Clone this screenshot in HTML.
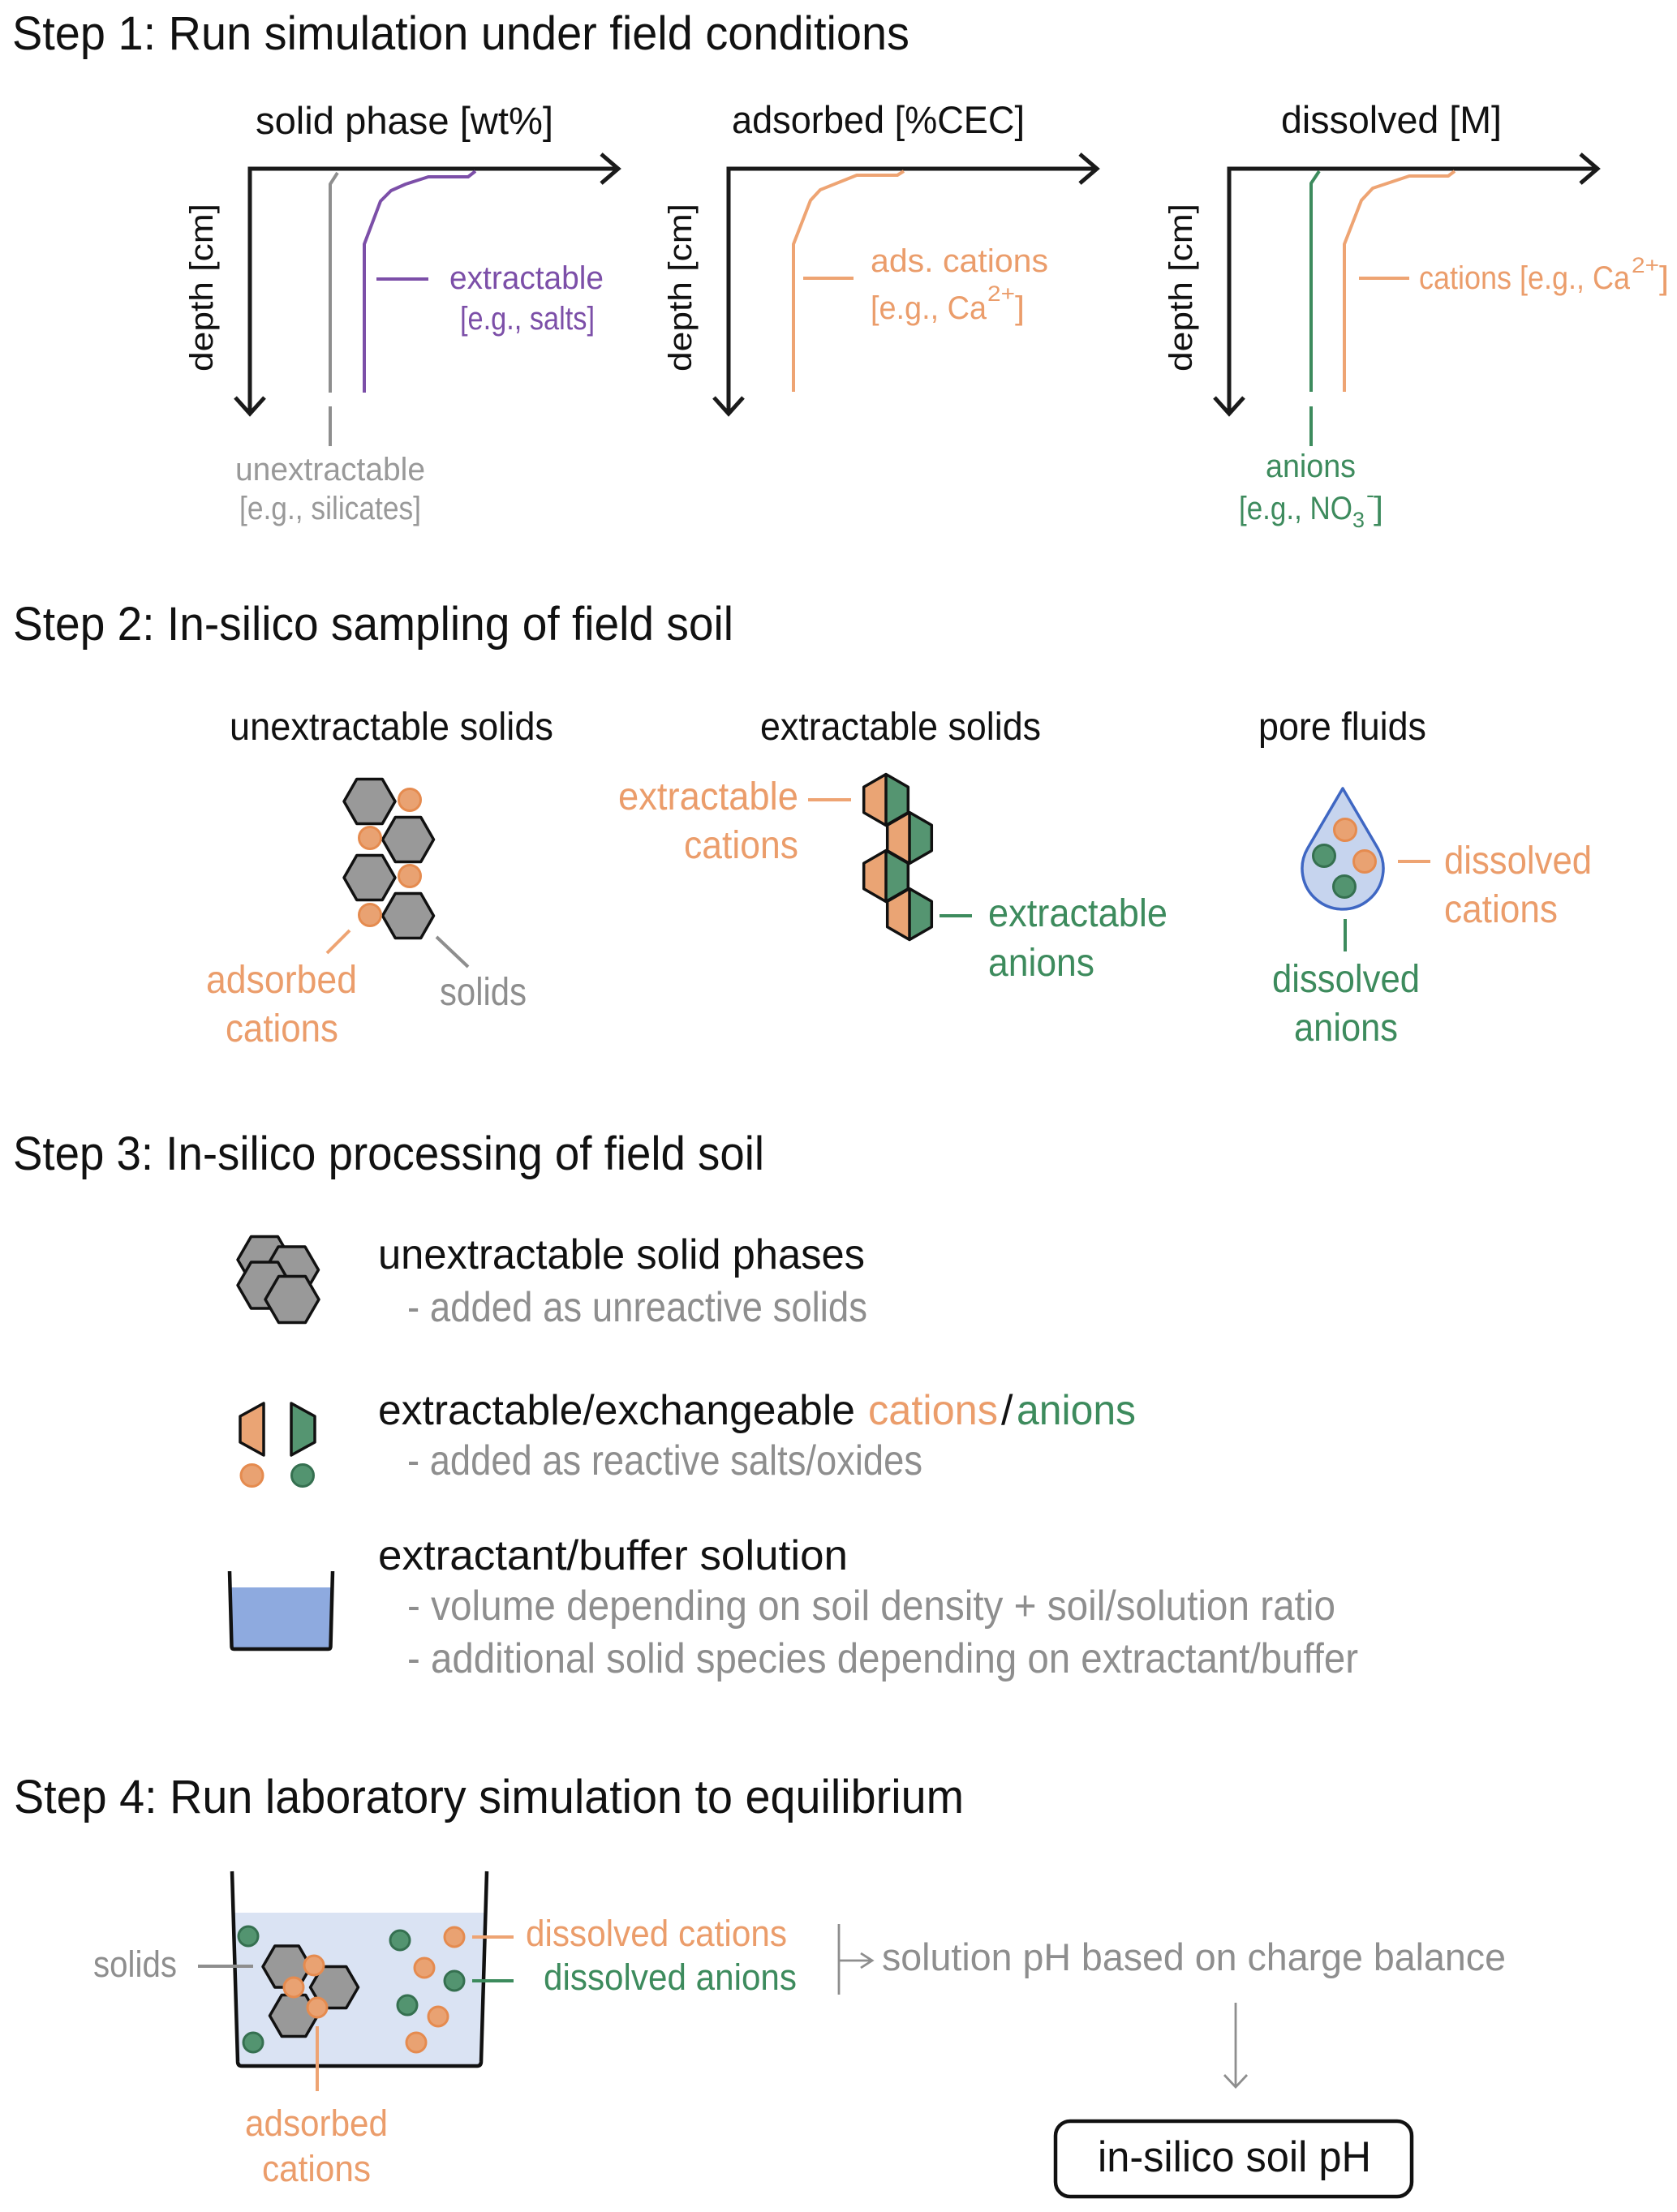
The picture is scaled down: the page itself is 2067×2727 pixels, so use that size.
<!DOCTYPE html>
<html>
<head>
<meta charset="utf-8">
<style>
html,body{margin:0;padding:0;background:#fff;}
svg{display:block;}
text{font-family:"Liberation Sans",sans-serif;}
</style>
</head>
<body>
<svg width="2067" height="2727" viewBox="0 0 2067 2727" xmlns="http://www.w3.org/2000/svg">
<rect x="0" y="0" width="2067" height="2727" fill="#ffffff"/>

<!-- ================= STEP TITLES ================= -->
<g fill="#111" font-size="58">
<text x="15" y="61" textLength="1106" lengthAdjust="spacingAndGlyphs">Step 1: Run simulation under field conditions</text>
<text x="16" y="789" textLength="888" lengthAdjust="spacingAndGlyphs">Step 2: In-silico sampling of field soil</text>
<text x="16" y="1442" textLength="926" lengthAdjust="spacingAndGlyphs">Step 3: In-silico processing of field soil</text>
<text x="17" y="2235" textLength="1171" lengthAdjust="spacingAndGlyphs">Step 4: Run laboratory simulation to equilibrium</text>
</g>

<!-- ================= STEP 1 ================= -->
<g fill="#111" font-size="47">
<text x="315" y="165" textLength="367" lengthAdjust="spacingAndGlyphs">solid phase [wt%]</text>
<text x="902" y="164" textLength="361" lengthAdjust="spacingAndGlyphs">adsorbed [%CEC]</text>
<text x="1579" y="164" textLength="272" lengthAdjust="spacingAndGlyphs">dissolved [M]</text>
</g>
<g fill="#111" font-size="40">
<text transform="translate(262,458) rotate(-90)" textLength="207" lengthAdjust="spacingAndGlyphs">depth [cm]</text>
<text transform="translate(852,458) rotate(-90)" textLength="207" lengthAdjust="spacingAndGlyphs">depth [cm]</text>
<text transform="translate(1469,458) rotate(-90)" textLength="207" lengthAdjust="spacingAndGlyphs">depth [cm]</text>
</g>

<!-- axes -->
<g stroke="#1a1a1a" stroke-width="5" fill="none" stroke-linecap="butt" stroke-linejoin="miter">
<path d="M308,510 L308,208 L761,208"/>
<path d="M741,190 L762,208 L741,226"/>
<path d="M290,490 L308,510 L326,490"/>

<path d="M898,510 L898,208 L1351,208"/>
<path d="M1331,190 L1352,208 L1331,226"/>
<path d="M880,490 L898,510 L916,490"/>

<path d="M1515,510 L1515,208 L1968,208"/>
<path d="M1948,190 L1969,208 L1948,226"/>
<path d="M1497,490 L1515,510 L1533,490"/>
</g>

<!-- panel 1 curves -->
<g fill="none" stroke-width="4" stroke-linejoin="round">
<polyline stroke="#8e8e8e" points="416,213 407,227 407,484"/>
<line stroke="#8e8e8e" x1="407" y1="501" x2="407" y2="550"/>
<polyline stroke="#7c4fa8" points="586,211 577,218 528,218 500,227 482,235 469,248 449,301 449,484"/>
<line stroke="#7c4fa8" x1="464" y1="344" x2="528" y2="344"/>
</g>
<g font-size="40">
<text x="554" y="356" fill="#7c4fa8" textLength="190" lengthAdjust="spacingAndGlyphs">extractable</text>
<text x="567" y="406" fill="#7c4fa8" textLength="166" lengthAdjust="spacingAndGlyphs">[e.g., salts]</text>
<text x="290" y="592" fill="#999" textLength="234" lengthAdjust="spacingAndGlyphs">unextractable</text>
<text x="295" y="640" fill="#999" textLength="224" lengthAdjust="spacingAndGlyphs">[e.g., silicates]</text>
</g>

<!-- panel 2 curves -->
<g fill="none" stroke-width="4" stroke-linejoin="round" stroke="#eea473">
<polyline points="1114,211 1106,216 1056,216 1011,234 999,247 978,301 978,483"/>
<line x1="990" y1="343" x2="1052" y2="343"/>
</g>
<g font-size="40" fill="#eb9d6b">
<text x="1073" y="335" textLength="219" lengthAdjust="spacingAndGlyphs">ads. cations</text>
<text x="1073" y="393" textLength="143" lengthAdjust="spacingAndGlyphs">[e.g., Ca</text>
<text x="1217" y="371" font-size="27" textLength="34" lengthAdjust="spacingAndGlyphs">2+</text>
<text x="1251" y="393" textLength="12" lengthAdjust="spacingAndGlyphs">]</text>
</g>

<!-- panel 3 curves -->
<g fill="none" stroke-width="4" stroke-linejoin="round">
<polyline stroke="#3d8b5d" points="1626,211 1616,226 1616,483"/>
<line stroke="#3d8b5d" x1="1616" y1="501" x2="1616" y2="550"/>
<polyline stroke="#eea473" points="1793,211 1785,217 1737,217 1692,232 1678,247 1657,301 1657,483"/>
<line stroke="#eea473" x1="1675" y1="343" x2="1737" y2="343"/>
</g>
<g font-size="40" fill="#eb9d6b">
<text x="1749" y="356" textLength="260" lengthAdjust="spacingAndGlyphs">cations [e.g., Ca</text>
<text x="2011" y="336" font-size="27" textLength="34" lengthAdjust="spacingAndGlyphs">2+</text>
<text x="2045" y="356" textLength="12" lengthAdjust="spacingAndGlyphs">]</text>
</g>
<g font-size="40" fill="#3d8b5d">
<text x="1560" y="588" textLength="111" lengthAdjust="spacingAndGlyphs">anions</text>
<text x="1527" y="640" textLength="140" lengthAdjust="spacingAndGlyphs">[e.g., NO</text>
<text x="1667" y="650" font-size="27" textLength="15" lengthAdjust="spacingAndGlyphs">3</text>
<text x="1684" y="619" font-size="27" textLength="10" lengthAdjust="spacingAndGlyphs">-</text>
<text x="1693" y="640" textLength="12" lengthAdjust="spacingAndGlyphs">]</text>
</g>

<!-- ================= STEP 2 ================= -->
<g fill="#111" font-size="48">
<text x="283" y="912" textLength="399" lengthAdjust="spacingAndGlyphs">unextractable solids</text>
<text x="937" y="912" textLength="346" lengthAdjust="spacingAndGlyphs">extractable solids</text>
<text x="1551" y="912" textLength="207" lengthAdjust="spacingAndGlyphs">pore fluids</text>
</g>

<!-- column 1: hexes and adsorbed cations -->
<g fill="#999999" stroke="#111" stroke-width="3.5" stroke-linejoin="round">
<polygon points="424,988 439.75,960.5 471.25,960.5 487,988 471.25,1015.5 439.75,1015.5"/>
<polygon points="471.5,1035 487.25,1007.5 518.75,1007.5 534.5,1035 518.75,1062.5 487.25,1062.5"/>
<polygon points="424,1082 439.75,1054.5 471.25,1054.5 487,1082 471.25,1109.5 439.75,1109.5"/>
<polygon points="471.5,1129 487.25,1101.5 518.75,1101.5 534.5,1129 518.75,1156.5 487.25,1156.5"/>
</g>
<g fill="#e9a272" stroke="#e58b4f" stroke-width="3">
<circle cx="505" cy="986" r="13.5"/>
<circle cx="456" cy="1033" r="13.5"/>
<circle cx="505" cy="1080" r="13.5"/>
<circle cx="456" cy="1128" r="13.5"/>
</g>
<line x1="431" y1="1147" x2="403" y2="1175" stroke="#eea473" stroke-width="4"/>
<line x1="538" y1="1155" x2="577" y2="1192" stroke="#8e8e8e" stroke-width="4"/>
<g font-size="48">
<text x="254" y="1224" fill="#eb9d6b" textLength="186" lengthAdjust="spacingAndGlyphs">adsorbed</text>
<text x="278" y="1284" fill="#eb9d6b" textLength="139" lengthAdjust="spacingAndGlyphs">cations</text>
<text x="542" y="1239" fill="#8e8e8e" textLength="107" lengthAdjust="spacingAndGlyphs">solids</text>
</g>

<!-- column 2: split hexes -->
<g stroke="none">
<polygon fill="#eaa474" points="1092,954.5 1064.7,970.25 1064.7,1001.75 1092,1017.5"/>
<polygon fill="#559571" points="1092,954.5 1119.3,970.25 1119.3,1001.75 1092,1017.5"/>
<polygon fill="#eaa474" points="1121,1001.5 1093.7,1017.25 1093.7,1048.75 1121,1064.5"/>
<polygon fill="#559571" points="1121,1001.5 1148.3,1017.25 1148.3,1048.75 1121,1064.5"/>
<polygon fill="#eaa474" points="1092,1048.5 1064.7,1064.25 1064.7,1095.75 1092,1111.5"/>
<polygon fill="#559571" points="1092,1048.5 1119.3,1064.25 1119.3,1095.75 1092,1111.5"/>
<polygon fill="#eaa474" points="1121,1095.5 1093.7,1111.25 1093.7,1142.75 1121,1158.5"/>
<polygon fill="#559571" points="1121,1095.5 1148.3,1111.25 1148.3,1142.75 1121,1158.5"/>
</g>
<g fill="none" stroke="#111" stroke-width="3.5" stroke-linejoin="round">
<polygon points="1092,954.5 1119.3,970.25 1119.3,1001.75 1092,1017.5 1064.7,1001.75 1064.7,970.25"/>
<line x1="1092" y1="954.5" x2="1092" y2="1017.5"/>
<polygon points="1121,1001.5 1148.3,1017.25 1148.3,1048.75 1121,1064.5 1093.7,1048.75 1093.7,1017.25"/>
<line x1="1121" y1="1001.5" x2="1121" y2="1064.5"/>
<polygon points="1092,1048.5 1119.3,1064.25 1119.3,1095.75 1092,1111.5 1064.7,1095.75 1064.7,1064.25"/>
<line x1="1092" y1="1048.5" x2="1092" y2="1111.5"/>
<polygon points="1121,1095.5 1148.3,1111.25 1148.3,1142.75 1121,1158.5 1093.7,1142.75 1093.7,1111.25"/>
<line x1="1121" y1="1095.5" x2="1121" y2="1158.5"/>
</g>
<line x1="996" y1="986" x2="1049" y2="986" stroke="#eea473" stroke-width="4"/>
<line x1="1158" y1="1129" x2="1198" y2="1129" stroke="#3d8b5d" stroke-width="4"/>
<g font-size="48">
<text x="762" y="998" fill="#eb9d6b" textLength="222" lengthAdjust="spacingAndGlyphs">extractable</text>
<text x="843" y="1058" fill="#eb9d6b" textLength="141" lengthAdjust="spacingAndGlyphs">cations</text>
<text x="1218" y="1142" fill="#3d8b5d" textLength="221" lengthAdjust="spacingAndGlyphs">extractable</text>
<text x="1218" y="1203" fill="#3d8b5d" textLength="131" lengthAdjust="spacingAndGlyphs">anions</text>
</g>

<!-- column 3: drop -->
<path d="M1655,972 L1611.8,1045.7 A50,50 0 1 0 1698.2,1045.7 Z" fill="#c6d4ee" stroke="#3f67c3" stroke-width="3.5" stroke-linejoin="round"/>
<g stroke-width="3">
<circle cx="1658" cy="1023" r="13.5" fill="#e9a272" stroke="#e58b4f"/>
<circle cx="1632" cy="1055" r="13.5" fill="#539470" stroke="#357050"/>
<circle cx="1682" cy="1062" r="13.5" fill="#e9a272" stroke="#e58b4f"/>
<circle cx="1657" cy="1093" r="13.5" fill="#539470" stroke="#357050"/>
</g>
<line x1="1723" y1="1062" x2="1763" y2="1062" stroke="#eea473" stroke-width="4"/>
<line x1="1658" y1="1133" x2="1658" y2="1173" stroke="#3d8b5d" stroke-width="4"/>
<g font-size="48">
<text x="1780" y="1077" fill="#eb9d6b" textLength="182" lengthAdjust="spacingAndGlyphs">dissolved</text>
<text x="1780" y="1137" fill="#eb9d6b" textLength="140" lengthAdjust="spacingAndGlyphs">cations</text>
<text x="1568" y="1223" fill="#3d8b5d" textLength="182" lengthAdjust="spacingAndGlyphs">dissolved</text>
<text x="1595" y="1283" fill="#3d8b5d" textLength="128" lengthAdjust="spacingAndGlyphs">anions</text>
</g>

<!-- ================= STEP 3 ================= -->
<g fill="#999999" stroke="#111" stroke-width="3.5" stroke-linejoin="round">
<polygon points="293,1553 309.5,1524.5 342.5,1524.5 359,1553 342.5,1581.5 309.5,1581.5"/>
<polygon points="326.5,1565.5 343,1537 376,1537 392.5,1565.5 376,1594 343,1594"/>
<polygon points="293,1584.5 309.5,1556 342.5,1556 359,1584.5 342.5,1613 309.5,1613"/>
<polygon points="327,1602 343.5,1573.5 376.5,1573.5 393,1602 376.5,1630.5 343.5,1630.5"/>
</g>
<g stroke="#111" stroke-width="3.5" stroke-linejoin="round">
<polygon fill="#eaa474" points="325,1730 325,1794 296,1778 296,1746"/>
<polygon fill="#559571" points="359,1730 388,1746 388,1778 359,1794"/>
</g>
<circle cx="310.5" cy="1819" r="13.5" fill="#e9a272" stroke="#e58b4f" stroke-width="3"/>
<circle cx="373" cy="1819" r="13.5" fill="#539470" stroke="#357050" stroke-width="3"/>
<!-- step 3 beaker -->
<polygon points="284.5,1957 408.5,1957 407,2032 286,2032" fill="#8eaadf"/>
<path d="M283,1937 L285.5,2030 Q285.7,2033 288.5,2033 L404.5,2033 Q407.3,2033 407.5,2030 L410,1937" fill="none" stroke="#111" stroke-width="4.5" stroke-linejoin="round"/>

<g font-size="52">
<text x="466" y="1564" fill="#111" textLength="600" lengthAdjust="spacingAndGlyphs">unextractable solid phases</text>
<text x="502" y="1629" fill="#8e8e8e" textLength="567" lengthAdjust="spacingAndGlyphs">- added as unreactive solids</text>
<text x="466" y="1756" fill="#111" textLength="588" lengthAdjust="spacingAndGlyphs">extractable/exchangeable</text>
<text x="1070" y="1756" fill="#eb9d6b" textLength="160" lengthAdjust="spacingAndGlyphs">cations</text>
<text x="1234" y="1756" fill="#111">/</text>
<text x="1253" y="1756" fill="#3d8b5d" textLength="147" lengthAdjust="spacingAndGlyphs">anions</text>
<text x="502" y="1818" fill="#8e8e8e" textLength="635" lengthAdjust="spacingAndGlyphs">- added as reactive salts/oxides</text>
<text x="466" y="1935" fill="#111" textLength="579" lengthAdjust="spacingAndGlyphs">extractant/buffer solution</text>
<text x="502" y="1997" fill="#8e8e8e" textLength="1144" lengthAdjust="spacingAndGlyphs">- volume depending on soil density + soil/solution ratio</text>
<text x="502" y="2062" fill="#8e8e8e" textLength="1172" lengthAdjust="spacingAndGlyphs">- additional solid species depending on extractant/buffer</text>
</g>

<!-- ================= STEP 4 ================= -->
<polygon points="288,2358 597,2358 592,2546 294,2546" fill="#dae3f3"/>
<g stroke-width="3">
<circle cx="306" cy="2387" r="12" fill="#539470" stroke="#357050"/>
<circle cx="312" cy="2518" r="12" fill="#539470" stroke="#357050"/>
<circle cx="493" cy="2392" r="12" fill="#539470" stroke="#357050"/>
<circle cx="502" cy="2472" r="12" fill="#539470" stroke="#357050"/>
<circle cx="560" cy="2442" r="12" fill="#539470" stroke="#357050"/>
<circle cx="523" cy="2426" r="12" fill="#e9a272" stroke="#e58b4f"/>
<circle cx="513" cy="2518" r="12" fill="#e9a272" stroke="#e58b4f"/>
<circle cx="540" cy="2486" r="12" fill="#e9a272" stroke="#e58b4f"/>
<circle cx="560" cy="2388" r="12" fill="#e9a272" stroke="#e58b4f"/>
</g>
<g fill="#999999" stroke="#111" stroke-width="3.5" stroke-linejoin="round">
<polygon points="324,2424.5 338.75,2399 368.25,2399 383,2424.5 368.25,2450 338.75,2450"/>
<polygon points="382.5,2450 397.25,2424.5 426.75,2424.5 441.5,2450 426.75,2475.5 397.25,2475.5"/>
<polygon points="332.5,2485 347.25,2459.5 376.75,2459.5 391.5,2485 376.75,2510.5 347.25,2510.5"/>
</g>
<g fill="#e9a272" stroke="#e58b4f" stroke-width="3">
<circle cx="387" cy="2423" r="12"/>
<circle cx="362" cy="2450" r="12"/>
<circle cx="391" cy="2475" r="12"/>
</g>
<path d="M286,2307 L293,2542 Q293.3,2547 298,2547 L588,2547 Q592.7,2547 593,2542 L600,2307" fill="none" stroke="#111" stroke-width="4.5" stroke-linejoin="round"/>

<line x1="244" y1="2424" x2="312" y2="2424" stroke="#8e8e8e" stroke-width="4"/>
<line x1="391" y1="2498" x2="391" y2="2578" stroke="#eea473" stroke-width="4"/>
<line x1="582" y1="2388" x2="633" y2="2388" stroke="#eea473" stroke-width="4"/>
<line x1="582" y1="2442" x2="633" y2="2442" stroke="#3d8b5d" stroke-width="4"/>
<g font-size="45">
<text x="115" y="2437" fill="#8e8e8e" textLength="103" lengthAdjust="spacingAndGlyphs">solids</text>
<text x="302" y="2633" fill="#eb9d6b" textLength="176" lengthAdjust="spacingAndGlyphs">adsorbed</text>
<text x="323" y="2689" fill="#eb9d6b" textLength="134" lengthAdjust="spacingAndGlyphs">cations</text>
<text x="648" y="2399" fill="#eb9d6b" textLength="322" lengthAdjust="spacingAndGlyphs">dissolved cations</text>
<text x="670" y="2453" fill="#3d8b5d" textLength="312" lengthAdjust="spacingAndGlyphs">dissolved anions</text>
</g>

<!-- bracket arrow and result -->
<g stroke="#8e8e8e" stroke-width="2.8" fill="none">
<line x1="1034" y1="2372" x2="1034" y2="2459"/>
<line x1="1034" y1="2417" x2="1074" y2="2417"/>
<path d="M1061,2408 L1075,2417 L1061,2426"/>
<line x1="1523" y1="2469" x2="1523" y2="2572"/>
<path d="M1509,2558 L1523,2573 L1537,2558"/>
</g>
<text x="1087" y="2429" font-size="47" fill="#8e8e8e" textLength="769" lengthAdjust="spacingAndGlyphs">solution pH based on charge balance</text>
<rect x="1301" y="2615" width="439" height="93" rx="18" ry="18" fill="#fff" stroke="#111" stroke-width="4.5"/>
<text x="1353" y="2677" font-size="53" fill="#111" textLength="337" lengthAdjust="spacingAndGlyphs">in-silico soil pH</text>

</svg>
</body>
</html>
